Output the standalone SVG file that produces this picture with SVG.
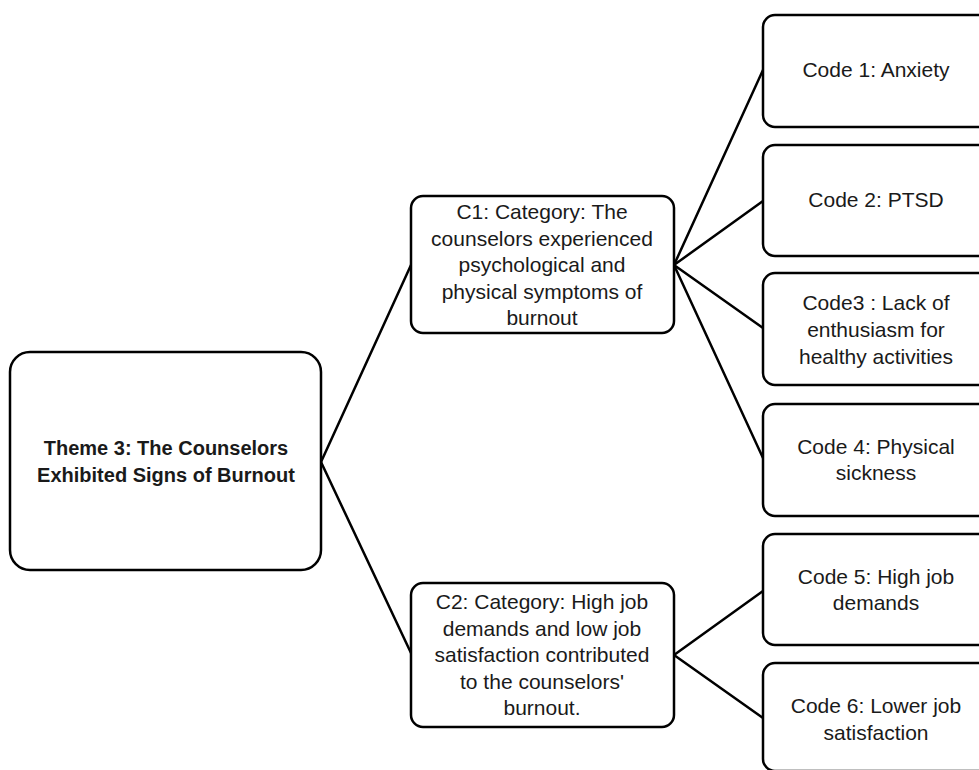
<svg xmlns="http://www.w3.org/2000/svg" width="979" height="770" viewBox="0 0 979 770">
  <style>
    .box { fill: #ffffff; stroke: #000000; stroke-width: 2.5; }
    .edge { fill: none; stroke: #000000; stroke-width: 2.5; stroke-linecap: round; }
    .t { font-family: "Liberation Sans", Arial, sans-serif; font-size: 21px; fill: #1a1a1a; text-anchor: middle; }
    .tb { font-family: "Liberation Sans", Arial, sans-serif; font-size: 20px; font-weight: bold; fill: #1a1a1a; text-anchor: middle; }
  </style>
  <rect width="979" height="770" fill="#ffffff"/>

  <!-- connectors -->
  <g id="connectors">
    <line class="edge" x1="321" y1="462" x2="411" y2="265"/>
    <line class="edge" x1="321" y1="462" x2="411" y2="653"/>
    <line class="edge" x1="674" y1="265" x2="763" y2="70"/>
    <line class="edge" x1="674" y1="265" x2="763" y2="201"/>
    <line class="edge" x1="674" y1="265" x2="763" y2="328"/>
    <line class="edge" x1="674" y1="265" x2="763" y2="458"/>
    <line class="edge" x1="674" y1="655" x2="763" y2="591"/>
    <line class="edge" x1="674" y1="655" x2="763" y2="718"/>
  </g>

  <!-- theme -->
  <g id="theme">
    <rect class="box" x="10" y="352" width="311" height="218" rx="20"/>
    <text class="tb" x="166" y="455">Theme 3: The Counselors</text>
    <text class="tb" x="166" y="482">Exhibited Signs of Burnout</text>
  </g>

  <!-- categories -->
  <g id="category-c1">
    <rect class="box" x="411" y="196" width="263" height="137" rx="12"/>
    <text class="t" x="542" y="219">C1: Category: The</text>
    <text class="t" x="542" y="245.5">counselors experienced</text>
    <text class="t" x="542" y="272">psychological and</text>
    <text class="t" x="542" y="298.5">physical symptoms of</text>
    <text class="t" x="542" y="325">burnout</text>
  </g>
  <g id="category-c2">
    <rect class="box" x="411" y="583" width="263" height="144" rx="12"/>
    <text class="t" x="542" y="609">C2: Category: High job</text>
    <text class="t" x="542" y="635.5">demands and low job</text>
    <text class="t" x="542" y="662">satisfaction contributed</text>
    <text class="t" x="542" y="688.5">to the counselors'</text>
    <text class="t" x="542" y="715">burnout.</text>
  </g>

  <!-- codes -->
  <g id="code-1">
    <rect class="box" x="763" y="15" width="228" height="112" rx="12"/>
    <text class="t" x="876" y="77">Code 1: Anxiety</text>
  </g>
  <g id="code-2">
    <rect class="box" x="763" y="145" width="228" height="111" rx="12"/>
    <text class="t" x="876" y="207">Code 2: PTSD</text>
  </g>
  <g id="code-3">
    <rect class="box" x="763" y="273" width="228" height="112" rx="12"/>
    <text class="t" x="876" y="310">Code3 : Lack of</text>
    <text class="t" x="876" y="337">enthusiasm for</text>
    <text class="t" x="876" y="364">healthy activities</text>
  </g>
  <g id="code-4">
    <rect class="box" x="763" y="404" width="228" height="112" rx="12"/>
    <text class="t" x="876" y="454">Code 4: Physical</text>
    <text class="t" x="876" y="480">sickness</text>
  </g>
  <g id="code-5">
    <rect class="box" x="763" y="534" width="228" height="111" rx="12"/>
    <text class="t" x="876" y="584">Code 5: High job</text>
    <text class="t" x="876" y="610">demands</text>
  </g>
  <g id="code-6">
    <rect class="box" x="763" y="663" width="228" height="108" rx="12"/>
    <text class="t" x="876" y="713">Code 6: Lower job</text>
    <text class="t" x="876" y="740">satisfaction</text>
  </g>
</svg>
